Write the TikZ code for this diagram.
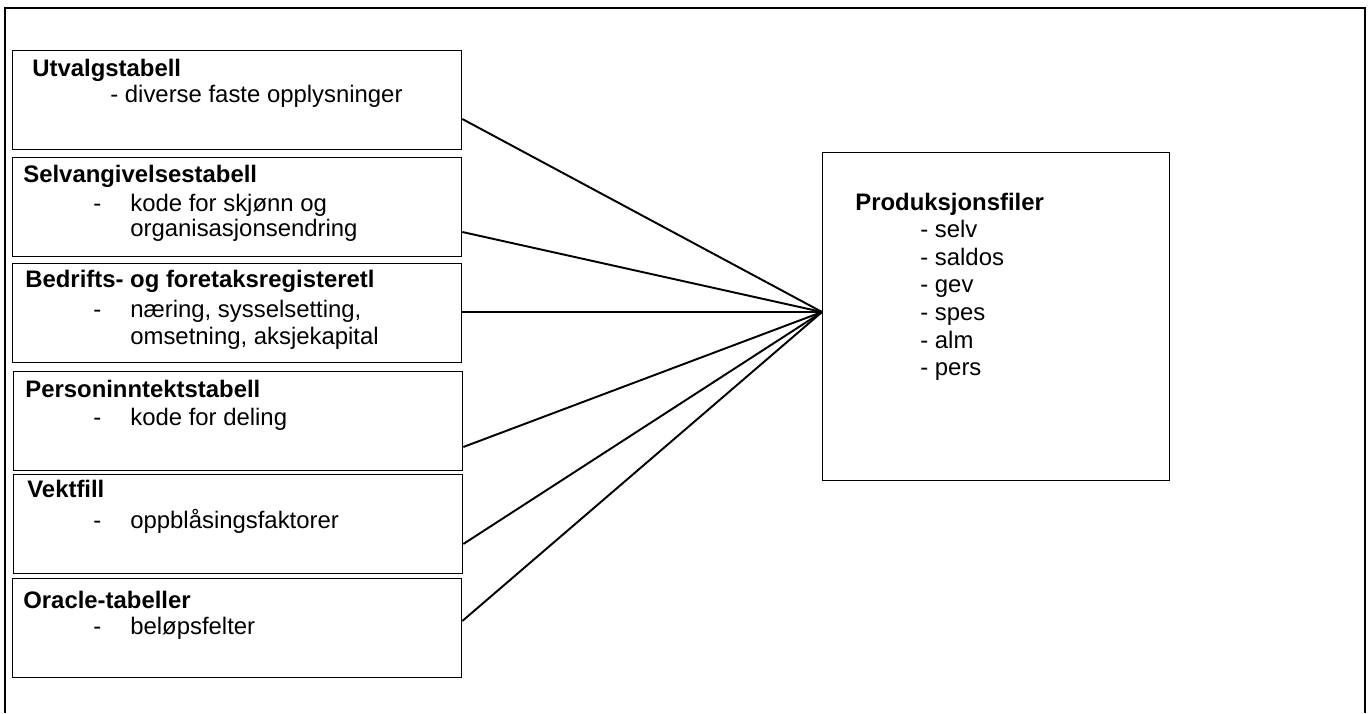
\documentclass[tikz,border=0pt]{standalone}
\usepackage{fontspec}
\setmainfont{Liberation Sans}

\begin{document}
\begin{tikzpicture}[x=0.02cm, y=-0.02cm,
  every node/.style={font=\fontsize{13.6}{16}\selectfont},
  srcbox/.style={draw, line width=0.8pt, anchor=north west, inner sep=0pt,
    minimum width=8.98cm, minimum height=1.98cm},
  destbox/.style={draw, line width=0.8pt, anchor=north west, inner sep=0pt,
    minimum width=6.94cm, minimum height=6.56cm},
  boxtitle/.style={anchor=base west, inner sep=0pt,
    font=\fontsize{13.6}{16}\selectfont\bfseries},
  boxitem/.style={anchor=base west, inner sep=0pt},
  link/.style={line width=1.1pt}]
  \useasboundingbox (0,0) rectangle (1368,713);
  \draw[line width=1.1pt] (5,713) -- (5,8) -- (1365,8) -- (1365,713);

  % source tables
  \node[srcbox] (utv) at (12,50) {};
  \node[boxtitle] (utvT) at (32,76) {Utvalgstabell};
  \node[boxitem] (utvA) at (110,103) {- diverse faste opplysninger};

  \node[srcbox] (selv) at (12,157) {};
  \node[boxtitle] (selvT) at (23,182) {Selvangivelsestabell};
  \node[boxitem] (selvD) at (93,211) {-};
  \node[boxitem] (selvA) at (130,211) {kode for skjønn og};
  \node[boxitem] (selvB) at (130,236) {organisasjonsendring};

  \node[srcbox] (bof) at (12,263) {};
  \node[boxtitle] (bofT) at (25,287) {Bedrifts- og foretaksregisteretl};
  \node[boxitem] (bofD) at (93,317) {-};
  \node[boxitem] (bofA) at (130,317) {næring, sysselsetting,};
  \node[boxitem] (bofB) at (130,344) {omsetning, aksjekapital};

  \node[srcbox] (pers) at (13,371) {};
  \node[boxtitle] (persT) at (25,397) {Personinntektstabell};
  \node[boxitem] (persD) at (93,425) {-};
  \node[boxitem] (persA) at (130,425) {kode for deling};

  \node[srcbox] (vekt) at (13,474) {};
  \node[boxtitle] (vektT) at (27,497) {Vektfill};
  \node[boxitem] (vektD) at (93,528) {-};
  \node[boxitem] (vektA) at (130,528) {oppblåsingsfaktorer};

  \node[srcbox] (ora) at (12,578) {};
  \node[boxtitle] (oraT) at (23,608) {Oracle-tabeller};
  \node[boxitem] (oraD) at (93,634) {-};
  \node[boxitem] (oraA) at (130,634) {beløpsfelter};

  % production files
  \node[destbox] (prod) at (822,152) {};
  \node[boxtitle] (prodT) at (855,210) {Produksjonsfiler};
  \node[boxitem] (prod1) at (920,237) {- selv};
  \node[boxitem] (prod2) at (920,265) {- saldos};
  \node[boxitem] (prod3) at (920,292) {- gev};
  \node[boxitem] (prod4) at (920,320) {- spes};
  \node[boxitem] (prod5) at (920,348) {- alm};
  \node[boxitem] (prod6) at (920,375) {- pers};

  \coordinate (hub) at (822,312);
  \foreach \b/\y in {utv/119, selv/232, bof/312, pers/447, vekt/544, ora/621}
    \draw[link] (\b.east |- 0,\y) -- (hub);
\end{tikzpicture}
\end{document}
